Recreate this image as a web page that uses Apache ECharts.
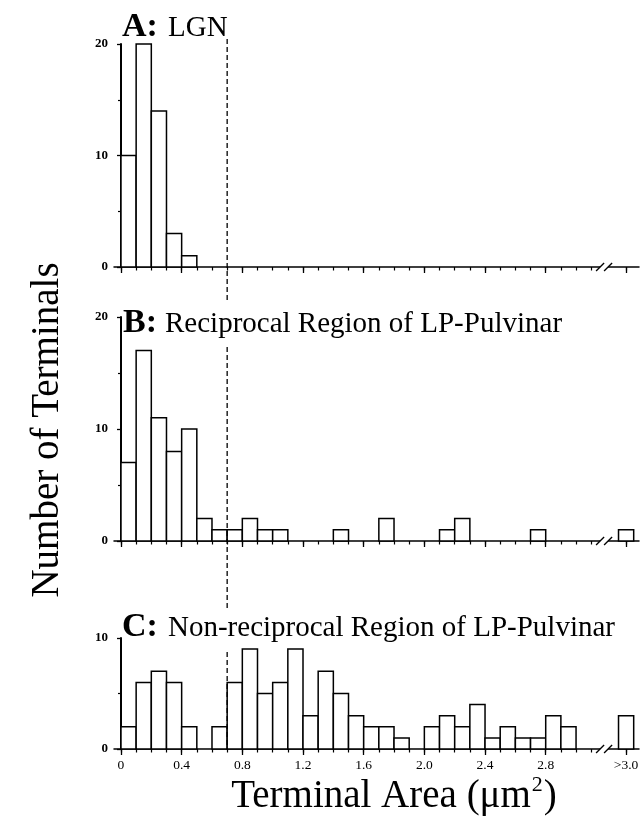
<!DOCTYPE html>
<html><head><meta charset="utf-8">
<script src="https://cdn.jsdelivr.net/npm/echarts@6/dist/echarts.min.js"></script>
<style>html,body{margin:0;padding:0;background:#fff}#c{width:644px;height:823px}</style>
</head><body><div id="c"></div>
<script>
// ---- data ----
const binStarts = [0,0.1,0.2,0.3,0.4,0.5,0.6,0.7,0.8,0.9,1.0,1.1,1.2,1.3,1.4,1.5,1.6,1.7,1.8,1.9,2.0,2.1,2.2,2.3,2.4,2.5,2.6,2.7,2.8,2.9];
const binWidth = 0.1;
const countsLGN            = [10,20,14,3,1,0,0,0,0,0,0,0,0,0,0,0,0,0,0,0,0,0,0,0,0,0,0,0,0,0];
const countsReciprocal     = [7,17,11,8,10,2,1,1,2,1,1,0,0,0,1,0,0,2,0,0,0,1,2,0,0,0,0,1,0,0];
const countsNonReciprocal  = [2,6,7,6,2,0,2,6,9,5,6,9,3,7,5,3,2,2,1,0,2,3,2,4,1,2,1,1,3,2];
const overflowBin = [3.28, 3.38];          // the ">3.0" bin, drawn past the axis break
const overflowCounts = [0, 1, 3];          // LGN, Reciprocal, Non-reciprocal
const xLabelValues = [0,0.4,0.8,1.2,1.6,2.0,2.4,2.8,3.33];
const xLabelTexts  = ['0','0.4','0.8','1.2','1.6','2.0','2.4','2.8','>3.0'];
const xMinorTicks  = [0,0.1,0.2,0.3,0.4,0.5,0.6,0.7,0.8,0.9,1.0,1.1,1.2,1.3,1.4,1.5,1.6,1.7,1.8,1.9,2.0,2.1,2.2,2.3,2.4,2.5,2.6,2.7,2.8,2.9,3.0,3.1,3.33];
const breakValue = 3.185;
const cutoffValue = 0.7;
const yMaxes = [20, 20, 10];
const panelLetters = ['A:', 'B:', 'C:'];
const panelNames = ['LGN', 'Reciprocal Region of LP-Pulvinar', 'Non-reciprocal Region of LP-Pulvinar'];
const yTitle = 'Number of Terminals';
const xTitleMain = 'Terminal Area (μm';
const xTitleSup = '2';
const xTitleEnd = ')';

// ---- layout ----
const FONT = 'Liberation Serif';
const LEFT = 114, RIGHT = 5;
const grids = [{top:44,height:223},{top:317,height:224},{top:638,height:111}];
const XMIN = -0.046, XMAX = 3.415;
const allCounts = [countsLGN, countsReciprocal, countsNonReciprocal];

const chart = echarts.init(document.getElementById('c'), null, {renderer:'canvas'});

const xAxis = [], yAxis = [], series = [];
grids.forEach((g, i) => {
  xAxis.push({
    type:'value', gridIndex:i, position:'bottom', min:XMIN, max:XMAX,
    axisLine:{show:true, onZero:false, lineStyle:{color:'#000', width:1.5}},
    axisTick:{show:true, customValues:xLabelValues, length:6, lineStyle:{color:'#000', width:1.3}},
    axisLabel:{show:i===2, customValues:xLabelValues, margin:9, color:'#000', fontFamily:FONT, fontSize:13.5,
      formatter: v => { const k = xLabelValues.findIndex(t => Math.abs(t - v) < 1e-6); return k >= 0 ? xLabelTexts[k] : ''; }},
    splitLine:{show:false}
  });
  xAxis.push({
    type:'value', gridIndex:i, position:'bottom', min:XMIN, max:XMAX,
    axisLine:{show:false},
    axisTick:{show:true, customValues:xMinorTicks, length:3.5, lineStyle:{color:'#000', width:1.2}},
    axisLabel:{show:false}, splitLine:{show:false}
  });
  yAxis.push({
    type:'value', gridIndex:i, min:0, max:yMaxes[i], interval:10,
    axisLine:{show:true, lineStyle:{color:'#000', width:2}},
    axisTick:{show:true, length:4, lineStyle:{color:'#000', width:1.3}},
    minorTick:{show:true, splitNumber:2, length:3, lineStyle:{color:'#000', width:1.2}},
    axisLabel:{margin:6, color:'#000', fontFamily:FONT, fontSize:13, fontWeight:'bold'},
    splitLine:{show:false}
  });
  const data = binStarts.map((s, k) => [s, s + binWidth, allCounts[i][k]]);
  data.push([overflowBin[0], overflowBin[1], overflowCounts[i]]);
  series.push({
    type:'custom', xAxisIndex:i*2, yAxisIndex:i, encode:{x:[0,1], y:2}, z:3,
    data,
    renderItem:(params, api) => {
      const c = api.value(2);
      if (!c) return null;
      const p0 = api.coord([api.value(0), c]);
      const p1 = api.coord([api.value(1), 0]);
      return {type:'rect', shape:{x:p0[0], y:p0[1], width:p1[0]-p0[0], height:p1[1]-p0[1]},
        style:{fill:'#fff', stroke:'#000', lineWidth:1.5}};
    }
  });
  series.push({
    type:'custom', xAxisIndex:i*2, yAxisIndex:i, encode:{x:0, y:1}, z:6, clip:false,
    data:[[breakValue, 0]],
    renderItem:(params, api) => {
      const p = api.coord([api.value(0), 0]);
      const d = 4;
      return {type:'group', children:[
        {type:'rect', shape:{x:p[0]-d, y:p[1]-3, width:2*d, height:9}, style:{fill:'#fff'}},
        {type:'line', shape:{x1:p[0]-d-4, y1:p[1]+4, x2:p[0]-d+4, y2:p[1]-4}, style:{stroke:'#000', lineWidth:1.3}},
        {type:'line', shape:{x1:p[0]+d-4, y1:p[1]+4, x2:p[0]+d+4, y2:p[1]-4}, style:{stroke:'#000', lineWidth:1.3}}
      ]};
    }
  });
});

// dashed cut-off line at 0.7 µm², running through all panels
series.push({
  type:'custom', xAxisIndex:4, yAxisIndex:2, encode:{x:0, y:1}, z:8, clip:false,
  data:[[cutoffValue, 0]],
  renderItem:(params, api) => {
    const p = api.coord([api.value(0), 0]);
    const segs = [
      [grids[0].top - 5, grids[1].top - 14],
      [grids[1].top + 30, grids[2].top - 28],
      [grids[2].top + 14, p[1]]
    ];
    return {type:'group', children: segs.map(s => ({type:'line',
      shape:{x1:p[0], y1:s[0], x2:p[0], y2:s[1]},
      style:{stroke:'#000', lineWidth:1.3, lineDash:[5,3]}}))};
  }
});

const titleY = [27, 323, 627];
const letterX = [122, 123, 122];
const nameX = [168, 165, 168];
const graphic = [];
grids.forEach((g, i) => {
  graphic.push({type:'text', x:letterX[i], y:titleY[i], z:20,
    style:{text:panelLetters[i], font:'bold 34px "' + FONT + '"', fill:'#000', verticalAlign:'middle'}});
  graphic.push({type:'text', x:nameX[i], y:titleY[i] + 1, z:20,
    style:{text:panelNames[i], font:'29px "' + FONT + '"', fill:'#000', verticalAlign:'middle'}});
});
graphic.push({type:'text', x:48, y:430, rotation:Math.PI/2, z:20,
  style:{text:yTitle, font:'39px "' + FONT + '"', fill:'#000', align:'center', verticalAlign:'middle'}});
graphic.push({type:'text', x:394, y:795, z:20,
  style:{text:'{m|' + xTitleMain + '}{s|' + xTitleSup + '}{m|' + xTitleEnd + '}',
    align:'center', verticalAlign:'middle',
    rich:{
      m:{fontSize:39, fontFamily:FONT, color:'#000', verticalAlign:'bottom', lineHeight:42},
      s:{fontSize:22, fontFamily:FONT, color:'#000', verticalAlign:'top', lineHeight:22, padding:[0,1,0,1]}
    }}});

chart.setOption({
  animation:false,
  backgroundColor:'#fff',
  grid: grids.map(g => ({left:LEFT, right:RIGHT, top:g.top, height:g.height, containLabel:false})),
  xAxis, yAxis, series, graphic
});
</script></body></html>
